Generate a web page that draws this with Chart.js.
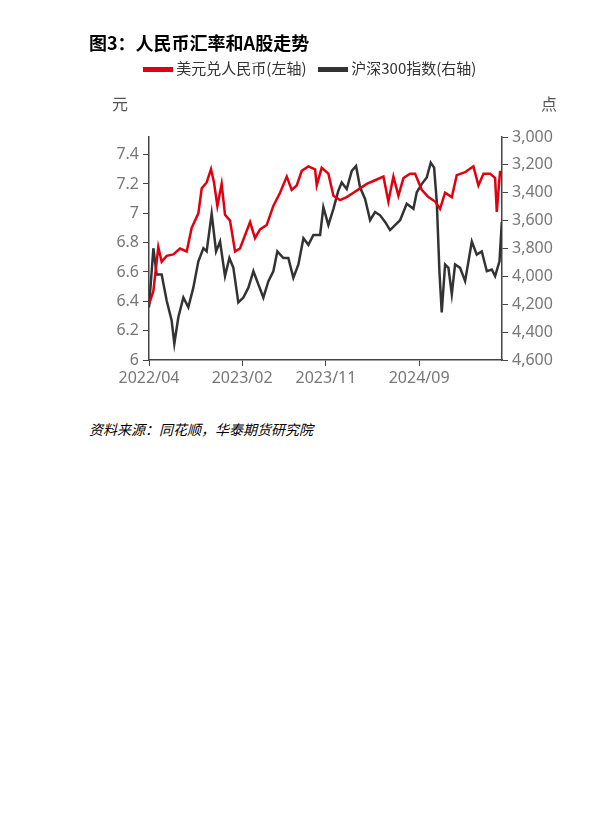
<!DOCTYPE html>
<html lang="en">
<head>
<meta charset="UTF-8">
<title>图3</title>
<script src="https://cdn.jsdelivr.net/npm/chart.js"></script>
<style>
  body { margin: 0; background: #fff; font-family: "Noto Sans CJK SC", "Noto Sans", sans-serif; }
  #wrap { position: relative; width: 599px; height: 823px; }
  #c { position: absolute; left: 0; top: 0; }
  .t { position: absolute; white-space: nowrap; }
</style>
</head>
<body>
<div id="wrap">
  <canvas id="c" width="599" height="400"></canvas>
  <div class="t" style="left:89px;top:29px;font-size:18px;font-weight:bold;color:#000;">图3：人民币汇率和A股走势</div>
  <div class="t" style="left:143px;top:57px;font-size:15px;color:#333;">
    <span style="display:inline-block;width:30px;height:5px;background:#e0000f;vertical-align:middle;"></span>
    美元兑人民币(左轴)
    <span style="display:inline-block;width:30px;height:5px;background:#333;vertical-align:middle;margin-left:8px;"></span>
    沪深300指数(右轴)
  </div>
  <div class="t" style="left:112px;top:91px;font-size:16px;color:#555;">元</div>
  <div class="t" style="left:541px;top:91px;font-size:16px;color:#555;">点</div>
  <div class="t" style="left:89px;top:419px;font-size:14px;font-style:italic;color:#000;">资料来源：同花顺，华泰期货研究院</div>
</div>
<script>
// x values are months since 2022/04
const usdMonths = [0,0.47,1.0,1.36,1.9,2.61,3.33,4.05,4.58,5.3,5.66,6.19,6.66,6.98,7.34,7.8,8.16,8.7,9.24,9.77,10.31,10.85,11.38,11.92,12.64,13.35,14.07,14.79,15.32,15.86,16.4,17.11,17.83,18.01,18.54,19.26,19.8,20.51,21.23,21.95,22.66,23.38,24.09,25.17,25.7,26.24,26.78,27.32,28.03,28.57,29.28,30.0,30.72,31.25,31.79,32.51,33.04,33.94,34.83,35.37,35.91,36.62,37.16,37.34,37.7];
const usdCny = [6.38,6.47,6.77,6.67,6.71,6.72,6.76,6.74,6.90,7.00,7.17,7.21,7.30,7.21,7.05,7.20,6.99,6.95,6.74,6.76,6.85,6.94,6.83,6.89,6.92,7.05,7.14,7.25,7.16,7.19,7.29,7.32,7.30,7.19,7.31,7.27,7.12,7.09,7.11,7.14,7.17,7.20,7.22,7.25,7.08,7.25,7.12,7.24,7.27,7.27,7.16,7.11,7.08,7.03,7.14,7.11,7.26,7.28,7.32,7.19,7.27,7.27,7.24,7.01,7.29];
const csiMonths = [0,0.47,0.82,1.36,1.9,2.43,2.72,3.15,3.69,4.22,4.76,5.3,5.84,6.19,6.73,7.2,7.63,8.16,8.63,9.06,9.59,10.13,10.67,11.21,11.74,12.28,12.82,13.35,13.78,14.43,14.96,15.5,16.04,16.58,17.11,17.65,18.37,18.72,19.26,19.8,20.33,20.69,21.23,21.77,22.23,22.66,23.2,23.74,24.27,24.81,25.35,25.88,26.42,26.96,27.67,28.39,28.75,29.28,29.82,30.25,30.61,30.9,31.18,31.43,31.79,32.15,32.51,32.86,33.4,33.94,34.66,35.19,35.73,36.27,36.8,37.16,37.63,37.88];
const csi300 = [4222,3798,3986,3986,4175,4316,4482,4293,4152,4222,4081,3892,3798,3821,3550,3821,3750,3998,3868,3939,4187,4152,4081,3963,4057,4152,4034,3963,3821,3868,3868,4010,3915,3727,3774,3703,3703,3503,3632,3515,3385,3326,3373,3243,3208,3361,3444,3597,3538,3562,3609,3668,3632,3597,3479,3515,3397,3338,3291,3184,3220,3467,3963,4258,3915,3939,4128,3915,3939,4034,3750,3844,3821,3963,3951,3998,3892,3609];
const xTickMonths = [0, 10, 19, 29];
const xTickLabels = ['2022/04', '2023/02', '2023/11', '2024/09'];
const leftTicks = [6, 6.2, 6.4, 6.6, 6.8, 7, 7.2, 7.4];

const axisColor = '#444';
const tickFont = { family: 'Noto Sans', size: 16 };
new Chart(document.getElementById('c'), {
    type: 'line',
    data: {
        datasets: [
            { label: '美元兑人民币(左轴)', data: usdMonths.map((m, i) => ({ x: m, y: usdCny[i] })), yAxisID: 'y', borderColor: '#e0000f', borderWidth: 2.5, pointRadius: 0, tension: 0 },
            { label: '沪深300指数(右轴)', data: csiMonths.map((m, i) => ({ x: m, y: csi300[i] })), yAxisID: 'y1', borderColor: '#333', borderWidth: 2.5, pointRadius: 0, tension: 0 }
        ]
    },
    options: {
        responsive: false,
        animation: false,
        layout: { padding: { top: 137, left: 0, right: 0, bottom: 0 } },
        plugins: { legend: { display: false }, tooltip: { enabled: false } },
        scales: {
            x: {
                type: 'linear', min: 0, max: 37.9,
                afterBuildTicks: s => { s.ticks = xTickMonths.map(v => ({ value: v })); },
                afterFit: s => { s.height = 40; },
                ticks: { callback: (v) => xTickLabels[xTickMonths.indexOf(v)], color: '#777', font: tickFont, maxRotation: 0, padding: 3 },
                grid: { drawOnChartArea: false, color: axisColor, tickLength: 6 },
                border: { color: axisColor, width: 1.5 }
            },
            y: {
                position: 'left', min: 6, max: 7.52,
                afterBuildTicks: s => { s.ticks = leftTicks.map(v => ({ value: v })); },
                afterFit: s => { s.width = 149; },
                ticks: { callback: v => String(Math.round(v * 10) / 10), color: '#777', font: tickFont, padding: 4 },
                grid: { drawOnChartArea: false, color: axisColor, tickLength: 6 },
                border: { color: axisColor, width: 1.5 }
            },
            y1: {
                position: 'right', min: 3000, max: 4600, reverse: true,
                afterFit: s => { s.width = 97; },
                ticks: { stepSize: 200, callback: v => v.toLocaleString('en-US'), color: '#777', font: tickFont, padding: 4 },
                grid: { drawOnChartArea: false, color: axisColor, tickLength: 6 },
                border: { color: axisColor, width: 1.5 }
            }
        }
    }
});
</script>
</body>
</html>
